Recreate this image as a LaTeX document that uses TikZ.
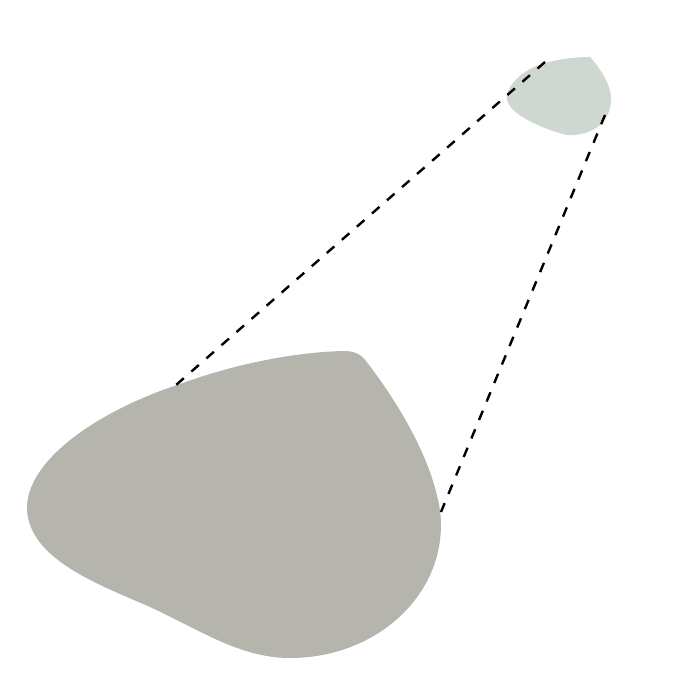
\documentclass[tikz,border=0pt]{standalone}
\definecolor{bigrock}{HTML}{B5B5AE}
\definecolor{smallrock}{HTML}{CED8D1}
\begin{document}
\begin{tikzpicture}[x=1pt, y=-1pt, line join=round, line cap=butt]
\useasboundingbox (0,0) rectangle (682,679);
\fill[bigrock] (343,351) .. controls (353,351) and (360,353) .. (366,361)
  .. controls (400,405) and (432,460) .. (440,510)
  .. controls (450,590) and (380,658) .. (290,658)
  .. controls (240,658) and (200,630) .. (150,607)
  .. controls (100,585) and (30,560) .. (27,510)
  .. controls (25,460) and (100,410) .. (180,384)
  .. controls (240,362) and (300,352) .. (343,351) -- cycle;
\fill[smallrock] (590,57) .. controls (602,70) and (612,88) .. (611,100)
  .. controls (610,125) and (590,136) .. (567,135)
  .. controls (545,130) and (510,115) .. (507,100)
  .. controls (505,85) and (525,68) .. (545,63)
  .. controls (560,59) and (575,57) .. (590,57) -- cycle;
\coordinate (small-a) at (545,62);
\coordinate (small-b) at (605,115);
\coordinate (big-a) at (176,385);
\coordinate (big-b) at (441,512);
\draw[line width=2.4pt, dash pattern=on 10pt off 10pt] (small-a)--(big-a) (small-b)--(big-b);
\end{tikzpicture}
\end{document}
